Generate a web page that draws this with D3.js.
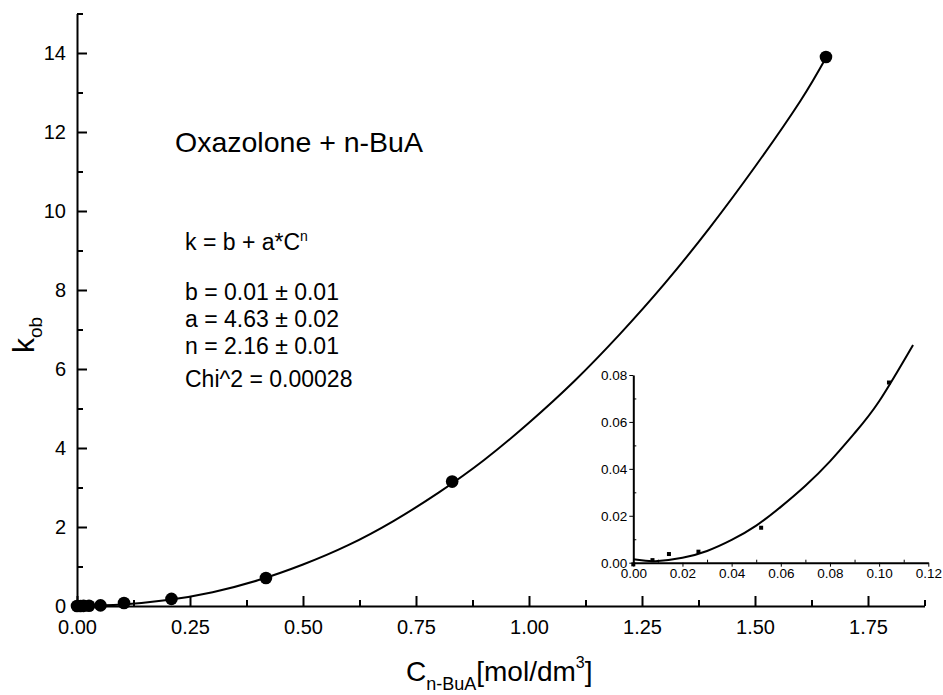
<!DOCTYPE html>
<html>
<head>
<meta charset="utf-8">
<script src="https://cdn.jsdelivr.net/npm/d3@7"></script>
<style>
  body { margin: 0; background: #fff; }
  svg { display: block; font-family: "Liberation Sans", Arial, sans-serif; }
  .domain { stroke-width: 2px; }
</style>
</head>
<body>
<svg id="chart" width="943" height="695"></svg>
<script>
// measured points (concentration mol/dm3, k_ob)
const conc = [0, 0.0078, 0.0145, 0.0265, 0.052, 0.104, 0.209, 0.418, 0.83, 1.657];
const kob  = [-0.0007, 0.0011, 0.0037, 0.0047, 0.0149, 0.0768, 0.18, 0.71, 3.15, 13.9];

// fitted curve
const fitC = [0, 0.1, 0.2, 0.3, 0.4, 0.5, 0.6, 0.7, 0.8, 0.9, 1.0, 1.1, 1.2, 1.3, 1.4, 1.5, 1.6, 1.657];
const fitK = [0.01, 0.04, 0.15, 0.35, 0.65, 1.05, 1.54, 2.15, 2.87, 3.69, 4.64, 5.69, 6.87, 8.16, 9.58, 11.12, 12.78, 13.88];

// fitted curve
const insetC = [0, 0.005, 0.01, 0.02, 0.03, 0.04, 0.05, 0.06, 0.07, 0.08, 0.09, 0.10, 0.1138];
const insetK = [0.0015, 0.0008, 0.0007, 0.0021, 0.005, 0.0097, 0.0158, 0.0238, 0.0328, 0.0432, 0.0552, 0.0688, 0.0928];

const xMajor = [0, 0.25, 0.5, 0.75, 1.0, 1.25, 1.5, 1.75];
const xMinor = [0.125, 0.375, 0.625, 0.875, 1.125, 1.375, 1.625, 1.875];
const yMajor = [0, 2, 4, 6, 8, 10, 12, 14];
const yMinor = [1, 3, 5, 7, 9, 11, 13, 15];
const insetXTicks = [0, 0.02, 0.04, 0.06, 0.08, 0.10, 0.12];
const insetXMinor = [0.01, 0.03, 0.05, 0.07, 0.09, 0.11];
const insetYTicks = [0, 0.02, 0.04, 0.06, 0.08];
const insetYMinor = [0.01, 0.03, 0.05, 0.07];

const infoLines = ["b = 0.01 \u00b1 0.01", "a = 4.63 \u00b1 0.02", "n = 2.16 \u00b1 0.01"];

const svg = d3.select("#chart");

const x = d3.scaleLinear().domain([0, 1.875]).range([77, 924.5]);
const y = d3.scaleLinear().domain([0, 15]).range([606, 13.5]);

// ---- main axes
const gx = svg.append("g").attr("transform", "translate(0," + y(0) + ")");
gx.call(d3.axisBottom(x).tickValues(xMajor).tickSize(-10).tickSizeOuter(0)
    .tickPadding(14).tickFormat(d3.format(".2f")));
gx.append("g").call(d3.axisBottom(x).tickValues(xMinor).tickSize(-6).tickSizeOuter(0).tickFormat(""))
  .select(".domain").remove();

const gy = svg.append("g").attr("transform", "translate(" + x(0) + ",0)");
gy.call(d3.axisLeft(y).tickValues(yMajor).tickSize(-10).tickSizeOuter(0).tickPadding(11));
gy.append("g").call(d3.axisLeft(y).tickValues(yMinor).tickSize(-6).tickSizeOuter(0).tickFormat(""))
  .select(".domain").remove();

svg.selectAll(".tick line").attr("stroke-width", 2);
gx.selectAll("text").attr("font-size", 20).attr("fill", "#000");
gy.selectAll("text").attr("font-size", 20).attr("fill", "#000");

// ---- fit curve + points
const line = d3.line().x(d => x(d[0])).y(d => y(d[1])).curve(d3.curveNatural);
svg.append("path")
  .datum(d3.zip(fitC, fitK))
  .attr("d", line)
  .attr("fill", "none")
  .attr("stroke", "#000")
  .attr("stroke-width", 2);

svg.append("g").selectAll("circle")
  .data(d3.zip(conc, kob))
  .enter().append("circle")
  .attr("cx", d => x(d[0]))
  .attr("cy", d => y(d[1]))
  .attr("r", 6.3)
  .attr("fill", "#000");

// ---- axis titles
const xt = svg.append("text").attr("x", 406).attr("y", 681).attr("font-size", 28);
xt.append("tspan").text("C");
xt.append("tspan").attr("font-size", 18).attr("dy", 9).text("n-BuA");
xt.append("tspan").attr("dy", -9).text("[mol/dm");
xt.append("tspan").attr("font-size", 16).attr("dy", -13).text("3");
xt.append("tspan").attr("dy", 13).text("]");

const yt = svg.append("text").attr("transform", "translate(34,335) rotate(-90)")
  .attr("text-anchor", "middle").attr("font-size", 30);
yt.append("tspan").text("k");
yt.append("tspan").attr("font-size", 19).attr("dy", 8).text("ob");

// ---- annotation
svg.append("text").attr("x", 175).attr("y", 152).attr("font-size", 28.5).text("Oxazolone + n-BuA");

const eq = svg.append("text").attr("x", 185).attr("y", 250).attr("font-size", 23);
eq.append("tspan").text("k = b + a*C");
eq.append("tspan").attr("font-size", 14).attr("dy", -9).text("n");

svg.append("g").selectAll("text")
  .data(infoLines)
  .enter().append("text")
  .attr("x", 185)
  .attr("y", (d, i) => 300 + i * 27)
  .attr("font-size", 23)
  .text(d => d);

svg.append("text").attr("x", 185).attr("y", 387).attr("font-size", 23).text("Chi^2 = 0.00028");

// ---- inset
const xi = d3.scaleLinear().domain([0, 0.12]).range([633.3, 928.3]);
const yi = d3.scaleLinear().domain([0, 0.08]).range([562.7, 375]);

const ix = svg.append("g").attr("transform", "translate(0," + yi(0) + ")");
ix.call(d3.axisBottom(xi).tickValues(insetXTicks).tickSize(4).tickSizeOuter(0)
    .tickPadding(2).tickFormat(d3.format(".2f")));
ix.append("g").call(d3.axisBottom(xi).tickValues(insetXMinor).tickSize(-3).tickSizeOuter(0).tickFormat(""))
  .select(".domain").remove();

const iy = svg.append("g").attr("transform", "translate(" + xi(0) + ",0)");
iy.call(d3.axisLeft(yi).tickValues(insetYTicks).tickSize(4).tickSizeOuter(0)
    .tickPadding(2).tickFormat(d3.format(".2f")));
iy.append("g").call(d3.axisLeft(yi).tickValues(insetYMinor).tickSize(-3).tickSizeOuter(0).tickFormat(""))
  .select(".domain").remove();

ix.selectAll("text").attr("font-size", 13.5).attr("fill", "#000");
iy.selectAll("text").attr("font-size", 13.5).attr("fill", "#000");
ix.selectAll(".domain").attr("stroke-width", 1.5);
iy.selectAll(".domain").attr("stroke-width", 1.5);
ix.selectAll(".tick line").attr("stroke-width", 1);
iy.selectAll(".tick line").attr("stroke-width", 1);

svg.append("path")
  .datum(d3.zip(insetC, insetK))
  .attr("d", d3.line().x(d => xi(d[0])).y(d => yi(d[1])).curve(d3.curveNatural))
  .attr("fill", "none")
  .attr("stroke", "#000")
  .attr("stroke-width", 2);

// only the first six points fall inside the inset range
svg.append("g").selectAll("rect")
  .data(d3.zip(conc, kob).filter(d => d[0] <= 0.12))
  .enter().append("rect")
  .attr("x", d => xi(d[0]) - 2)
  .attr("y", d => yi(d[1]) - 2)
  .attr("width", 4)
  .attr("height", 4)
  .attr("fill", "#000");
</script>
</body>
</html>
